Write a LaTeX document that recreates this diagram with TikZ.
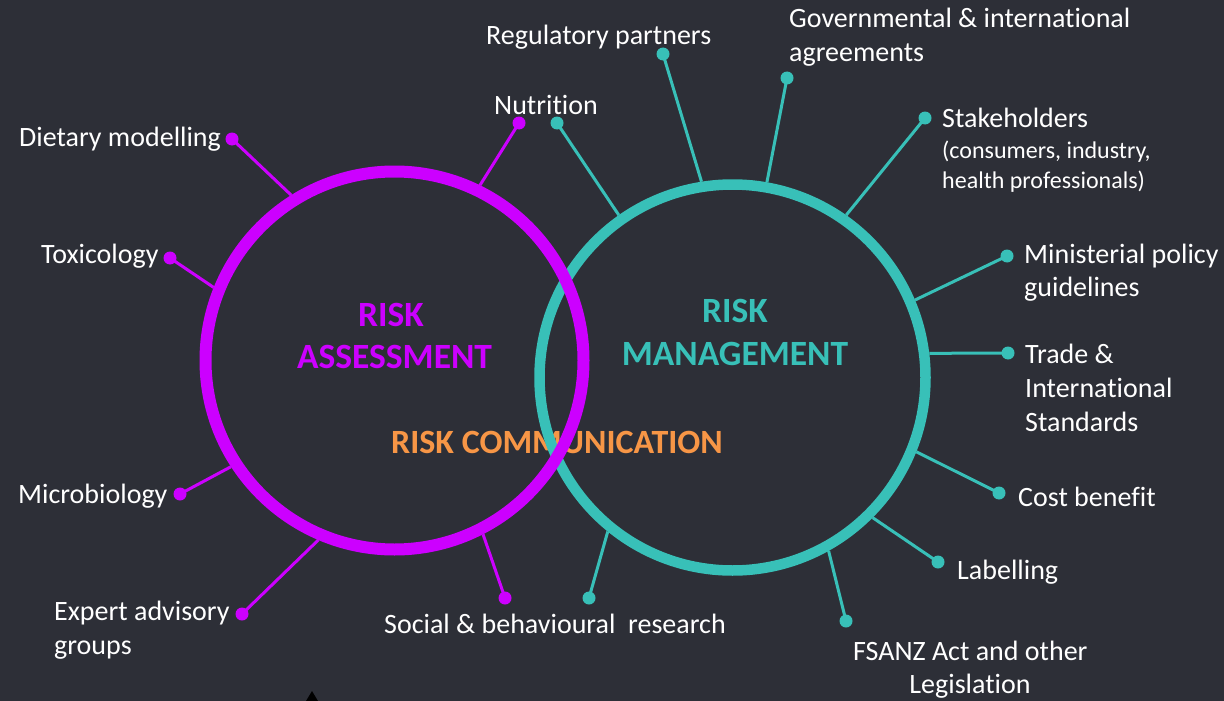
\documentclass[tikz,border=0pt]{standalone}
\usepackage{fontspec}
\setmainfont{Carlito}[Ligatures={NoCommon,NoRequired,NoContextual}]
\definecolor{bg}{HTML}{2D2F37}
\definecolor{rpurple}{HTML}{CC00FF}
\definecolor{rteal}{HTML}{38C0B8}
\definecolor{rorange}{HTML}{F79646}
\begin{document}
\begin{tikzpicture}[x=1pt,y=-1pt,
  lbl/.style={text=white,font=\fontsize{28}{34}\selectfont,inner sep=0,anchor=base west},
  sml/.style={text=white,font=\fontsize{24}{29}\selectfont,inner sep=0,anchor=base west},
  ttl/.style={font=\fontsize{35.5}{42}\selectfont\bfseries,inner sep=0,anchor=base},
  pdot/.style={circle,fill=rpurple,inner sep=0,minimum size=13pt},
  tdot/.style={circle,fill=rteal,inner sep=0,minimum size=13pt},
  pcon/.style={draw=rpurple,line width=3pt},
  tcon/.style={draw=rteal,line width=3pt},
  ring/.style={circle,inner sep=0}
]
\fill[bg] (0,0) rectangle (1224,701);
\useasboundingbox (0,0) rectangle (1224,701);

% labels
\node[lbl] (dm) at (19,146) {Dietary model\kern0pt l\kern0pt ing};
\node[lbl] (tox) at (41,263) {Toxicology};
\node[lbl] (mic) at (18,503) {Microbiology};
\node[lbl] (ea1) at (54,620) {Expert advisory};
\node[lbl] (ea2) at (54,654) {groups};
\node[lbl] (sbr) at (384,633) {Social \& behavioural~ research};
\node[lbl] (rp) at (486,45) {Regulatory partners};
\node[lbl] (nut) at (494,114) {Nutrit\kern0pt ion};
\node[lbl] (gov1) at (789,28) {Governmental \& internat\kern0pt ional};
\node[lbl] (gov2) at (789,62) {agreements};
\node[lbl] (stk) at (942,128) {Stakeholders};
\node[sml] (stk2) at (942,158) {(consumers, industry,};
\node[sml] (stk3) at (942,188) {health professionals)};
\node[lbl] (min1) at (1024,263) {Ministerial policy};
\node[lbl] (min2) at (1024,296) {guidelines};
\node[lbl] (tr1) at (1025,363) {Trade \&};
\node[lbl] (tr2) at (1025,397) {Internat\kern0pt ional};
\node[lbl] (tr3) at (1025,431) {Standards};
\node[lbl] (cb) at (1018,506) {Cost benef\kern0pt it};
\node[lbl] (lab) at (957,579) {Label\kern0pt l\kern0pt ing};
\node[lbl] (fs1) at (853,660) {FSANZ Act and other};
\node[lbl,anchor=base] (fs2) at (970,693) {Legislat\kern0pt ion};

% titles
\node[ttl,text=rpurple] (ra1) at (391,326) {RISK};
\node[ttl,text=rpurple] (ra2) at (394.5,368) {ASSESSMENT};
\node[ttl,text=rteal] (rm1) at (735,322) {RISK};
\node[ttl,text=rteal] (rm2) at (735,365) {MANAGEMENT};
\node[ttl,text=rorange,font=\fontsize{34}{42}\selectfont\bfseries] (rc) at (557,453) {RISK COMMUNICATION};

% rings
\node[ring,draw=rteal,line width=10.5pt,minimum size=386pt] (tm) at (732.5,377.5) {};
\node[ring,draw=rpurple,line width=12pt,minimum size=378pt] (pa) at (394.5,360.5) {};

% purple connectors
\node[pdot] (pd1) at (232,139) {};
\node[pdot] (pd2) at (170,258) {};
\node[pdot] (pd3) at (180,494) {};
\node[pdot] (pd4) at (242,614) {};
\node[pdot] (pd5) at (519,123) {};
\node[pdot] (pd6) at (505,598) {};
\draw[pcon] (pd1.center) -- (pa.122.7);
\draw[pcon] (pd2.center) -- (pa.158.4);
\draw[pcon] (pd3.center) -- (pa.213);
\draw[pcon] (pd4.center) -- (pa.247.7);
\draw[pcon] (pd5.center) -- (pa.64.5);
\draw[pcon] (pd6.center) -- (pa.297.8);

% teal connectors
\node[tdot] (td1) at (557,123) {};
\node[tdot] (td2) at (663,54) {};
\node[tdot] (td3) at (787,78) {};
\node[tdot] (td4) at (925,118) {};
\node[tdot] (td5) at (1007,256) {};
\node[tdot] (td6) at (1008,353) {};
\node[tdot] (td7) at (999,493) {};
\node[tdot] (td8) at (938,562) {};
\node[tdot] (td9) at (846,621) {};
\node[tdot] (td10) at (589,598) {};
\draw[tcon] (td1.center) -- (tm.125.6);
\draw[tcon] (td2.center) -- (tm.99.1);
\draw[tcon] (td3.center) -- (tm.80);
\draw[tcon] (td4.center) -- (tm.55.6);
\draw[tcon] (td5.center) -- (tm.23.5);
\draw[tcon] (td6.center) -- (tm.7.1);
\draw[tcon] (td7.center) -- (tm.-22.7);
\draw[tcon] (td8.center) -- (tm.-45.2);
\draw[tcon] (td9.center) -- (tm.-61.6);
\draw[tcon] (td10.center) -- (tm.231.5);

% cursor
\fill[black] (312,691) -- (318,701) -- (306,701) -- cycle;
\end{tikzpicture}
\end{document}
